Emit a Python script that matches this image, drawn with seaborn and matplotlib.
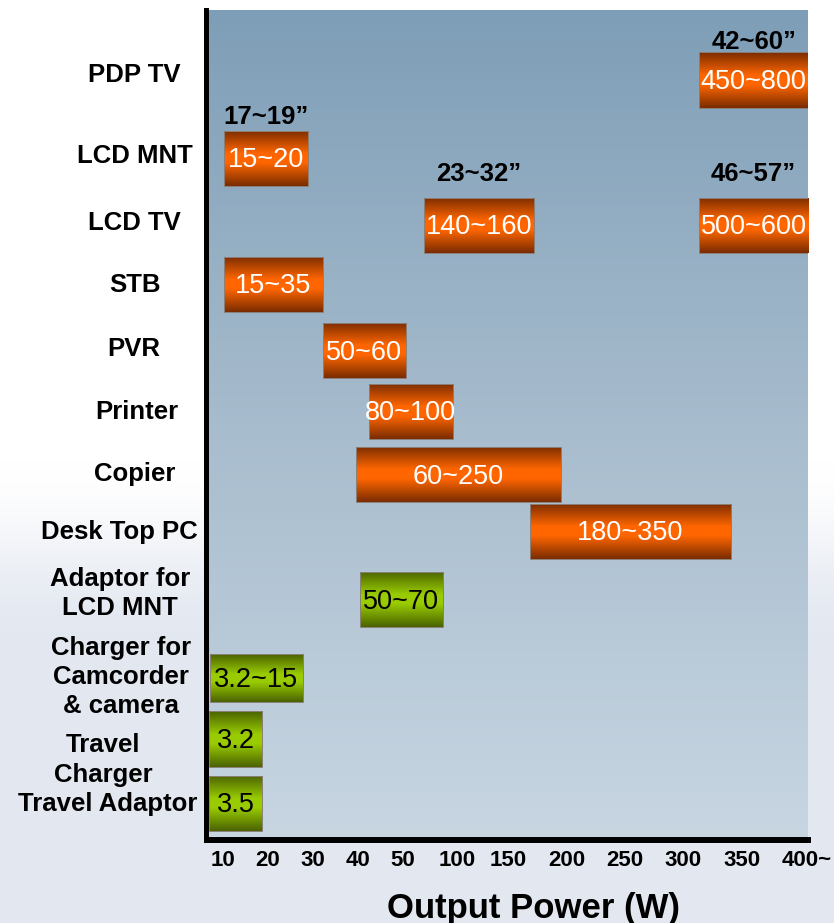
import numpy as np
import matplotlib
matplotlib.use("Agg")
import matplotlib.pyplot as plt
from matplotlib.colors import LinearSegmentedColormap
import seaborn as sns

# ---- data -------------------------------------------------------------
devices = ["PDP TV", "LCD MNT", "LCD TV", "STB", "PVR", "Printer", "Copier",
           "Desk Top PC", "Adaptor for\nLCD MNT", "Charger for\nCamcorder\n& camera",
           "Travel\nCharger", "Travel Adaptor"]

# one entry per bar: which device row, where it starts / ends on the watt axis
bar_device = [0, 1, 2, 2, 3, 4, 5, 6, 7, 8, 9, 10, 11]
bar_start_w = [314, 10.2, 69.4, 313.6, 10.2, 32.2, 42.4, 39.6, 168.6, 40.4, 7.1, 6.9, 6.9]
bar_end_w = [401, 28.9, 172.0, 401, 32.2, 52.8, 96.3, 194.9, 340.7, 87.0, 27.8, 18.7, 18.7]
bar_range_text = ["450~800", "15~20", "140~160", "500~600", "15~35", "50~60", "80~100",
                  "60~250", "180~350", "50~70", "3.2~15", "3.2", "3.5"]
bar_kind = ["set"] * 9 + ["adapter"] * 4

# panel sizes written above some of the display bars
size_bar = [0, 1, 2, 3]
size_text = ["42~60\u201d", "17~19\u201d", "23~32\u201d", "46~57\u201d"]

tick_w = [10, 20, 30, 40, 50, 100, 150, 200, 250, 300, 350, 400]
tick_text = ["10", "20", "30", "40", "50", "100", "150", "200", "250", "300", "350", "400~"]

# ---- layout -------------------------------------------------------------
row_y = [0.0, 1.19, 2.21, 3.11, 4.12, 5.04, 6.01, 6.87, 7.91, 9.10, 10.03, 11.01]
row_h = [0.84] * 9 + [0.73, 0.84, 0.84]
label_y = [-0.08, 1.16, 2.18, 3.12, 4.09, 5.05, 6.0, 6.88, 7.81, 9.09, 10.35, 11.02]
label_x = [-0.123, -0.122, -0.123, -0.122, -0.123, -0.118, -0.122, -0.147, -0.147,
           -0.145, -0.175, -0.168]
size_y = [-0.58, 0.56, 1.43, 1.43]
y_limits = (11.568, -1.065)

# uneven watt axis: each tick gets its own slot along the axis
slot_w = [0] + tick_w + [500]
slot_pos = [-30, 15, 60, 105, 150, 195, 249, 300, 359, 417, 475, 534, 599, 729]


def w_to_pos(w):
    return np.interp(np.asarray(w, dtype=float), slot_w, slot_pos)


def pos_to_w(p):
    return np.interp(np.asarray(p, dtype=float), slot_pos, slot_w)


# ---- style --------------------------------------------------------------
sns.set_theme(style="white")
plt.rcParams["font.family"] = ["Liberation Sans", "DejaVu Sans"]

orange_cmap = LinearSegmentedColormap.from_list(
    "orange_bar", [(0, "#7a2c00"), (0.42, "#ff6600"), (0.58, "#ff6600"), (1, "#7a2c00")])
green_cmap = LinearSegmentedColormap.from_list(
    "green_bar", [(0, "#4a6200"), (0.42, "#99cc00"), (0.58, "#99cc00"), (1, "#4a6200")])
panel_cmap = LinearSegmentedColormap.from_list("panel", ["#7e9eb7", "#a7bccd", "#c8d6e2"])

fig = plt.figure(figsize=(8.34, 9.23), dpi=100)

# page background: white at the top fading into a pale blue-grey
bg = fig.add_axes([0, 0, 1, 1], zorder=-5)
bg.axis("off")
rows = np.linspace(0, 1, 400)
fade = np.clip((rows - 0.50) / 0.19, 0, 1)
fade = fade * fade * (3 - 2 * fade)
white = np.array([1.0, 1.0, 1.0])
pale = np.array([0.893, 0.912, 0.945])
page = (white[None, :] * (1 - fade[:, None]) + pale[None, :] * fade[:, None])[:, None, :]
bg.imshow(page, extent=(0, 1, 0, 1), aspect="auto", origin="upper")
bg.set_xlim(0, 1)
bg.set_ylim(0, 1)

ax = fig.add_axes([208 / 834, 1 - 840 / 923, 600 / 834, 830 / 923], zorder=1)
ax.set_xscale("function", functions=(w_to_pos, pos_to_w))
ax.set_xlim(6.7, 400.8)
ax.set_ylim(*y_limits)
ax.set_autoscale_on(False)
ax.patch.set_visible(False)

# panel gradient
grad = np.linspace(0, 1, 256)[:, None]
ax.imshow(grad, cmap=panel_cmap, extent=(0, 1, 0, 1), transform=ax.transAxes,
          aspect="auto", origin="upper", zorder=0)


def to_axes_y(y):
    return (y - y_limits[0]) / (y_limits[1] - y_limits[0])


for i, dev in enumerate(bar_device):
    yc = row_y[dev]
    h = row_h[dev]
    start, end = bar_start_w[i], bar_end_w[i]
    cont = ax.barh(yc, end - start, left=start, height=h, facecolor="none",
                   edgecolor="#8c8078", linewidth=0.7, zorder=3)
    patch = cont.patches[0]
    cmap = orange_cmap if bar_kind[i] == "set" else green_cmap
    im = ax.imshow(grad, cmap=cmap, transform=ax.transAxes, aspect="auto",
                   extent=(0, 1, to_axes_y(yc + h / 2), to_axes_y(yc - h / 2)),
                   origin="upper", zorder=2)
    im.set_clip_path(patch)
    mid = pos_to_w((w_to_pos(start) + w_to_pos(min(end, 400.8))) / 2)
    ax.text(mid, yc + 0.03, bar_range_text[i], ha="center", va="center",
            fontsize=19.5, color="white" if bar_kind[i] == "set" else "black",
            zorder=4, clip_on=False)

for j, b in enumerate(size_bar):
    start, end = bar_start_w[b], min(bar_end_w[b], 400.8)
    mid = pos_to_w((w_to_pos(start) + w_to_pos(end)) / 2)
    ax.text(mid, size_y[j], size_text[j], ha="center", va="center", fontsize=18.5,
            fontweight="bold", color="black", zorder=4)

for k, name in enumerate(devices):
    ax.text(label_x[k], label_y[k], name, transform=ax.get_yaxis_transform(),
            ha="center", va="center", multialignment="center", fontsize=18.5,
            fontweight="bold", color="black", linespacing=1.27, clip_on=False)

ax.set_yticks([])
ax.set_xticks(tick_w)
ax.set_xticklabels(tick_text, fontsize=16, fontweight="bold", color="black")
ax.tick_params(axis="x", length=0, pad=7)

ax.set_xlabel("Output Power (W)", fontsize=25, fontweight="bold", color="black")
ax.xaxis.set_label_coords(0.5425, -0.082)
ax.xaxis.label.set_va("center")

sns.despine(ax=ax, top=True, right=True)
ax.spines["left"].set_color("black")
ax.spines["left"].set_linewidth(3.6)
ax.spines["left"].set_position(("outward", 1.8))
ax.spines["bottom"].set_color("black")
ax.spines["bottom"].set_linewidth(4.3)
ax.spines["left"].set_zorder(5)
ax.spines["bottom"].set_zorder(5)

fig.savefig("out.png", dpi=100)
